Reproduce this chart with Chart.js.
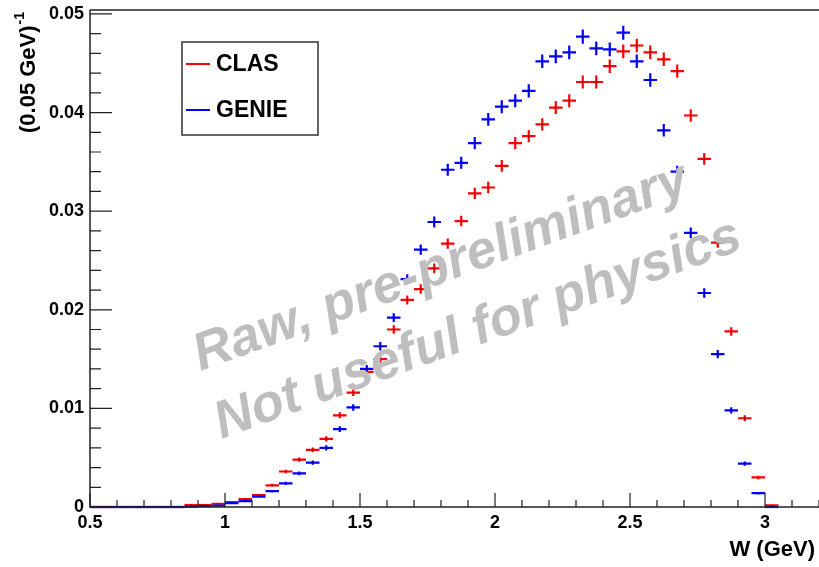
<!DOCTYPE html>
<html>
<head>
<meta charset="utf-8">
<script src="https://cdn.jsdelivr.net/npm/chart.js@4.4.0/dist/chart.umd.min.js"></script>
<style>
  html, body { margin: 0; padding: 0; background: #fff; }
  canvas { display: block; }
</style>
</head>
<body>
<canvas id="myChart" width="819" height="567"></canvas>
<script>
// W distribution, CLAS data vs GENIE, 0.05 GeV bins
var wCenters = [0.525, 0.575, 0.625, 0.675, 0.725, 0.775, 0.825, 0.875, 0.925, 0.975,
                1.025, 1.075, 1.125, 1.175, 1.225, 1.275, 1.325, 1.375, 1.425, 1.475,
                1.525, 1.575, 1.625, 1.675, 1.725, 1.775, 1.825, 1.875, 1.925, 1.975,
                2.025, 2.075, 2.125, 2.175, 2.225, 2.275, 2.325, 2.375, 2.425, 2.475,
                2.525, 2.575, 2.625, 2.675, 2.725, 2.775, 2.825, 2.875, 2.925, 2.975,
                3.025];
var binHalfWidth = 0.025;

var clasValues = [0, 0, 0, 0, 0, 0, 0, 0.0002, 0.0002, 0.00033,
                  0.0005, 0.0008, 0.0012, 0.0022, 0.0036, 0.0048, 0.0058, 0.0069, 0.0093, 0.0116,
                  0.0137, 0.0150, 0.0180, 0.0210, 0.0221, 0.0242, 0.0267, 0.0290, 0.0318, 0.0324,
                  0.0346, 0.0369, 0.0376, 0.0388, 0.0405, 0.0412, 0.0431, 0.0431, 0.0447, 0.0462,
                  0.0468, 0.0461, 0.0454, 0.0442, 0.0397, 0.0353, 0.0268, 0.0178, 0.0090, 0.0030,
                  0.00017];
var clasErrors = [0, 0, 0, 0, 0, 0, 0, 0.00005, 0.00005, 0.00006,
                  0.00007, 0.00009, 0.00011, 0.00015, 0.00019, 0.00022, 0.00024, 0.00027, 0.00031, 0.00034,
                  0.00037, 0.00039, 0.00043, 0.00046, 0.00048, 0.0005, 0.00052, 0.00054, 0.00057, 0.00058,
                  0.0006, 0.00061, 0.00062, 0.00063, 0.00064, 0.00065, 0.00066, 0.00066, 0.00068, 0.00069,
                  0.00069, 0.00069, 0.00068, 0.00067, 0.00064, 0.0006, 0.00052, 0.00043, 0.0003, 0.00018,
                  0.00004];

var genieValues = [0, 0, 0, 0, 0, 0, 0, 0.00003, 0.0001, 0.00015,
                   0.0004, 0.0006, 0.00105, 0.0016, 0.0024, 0.0034, 0.0045, 0.0060, 0.0079, 0.0101,
                   0.0140, 0.0163, 0.0192, 0.0231, 0.0261, 0.0289, 0.0342, 0.0349, 0.0369, 0.0393,
                   0.0406, 0.0412, 0.0422, 0.0452, 0.0457, 0.0461, 0.0477, 0.0465, 0.0464, 0.0481,
                   0.0452, 0.0433, 0.0382, 0.0340, 0.0278, 0.0217, 0.0155, 0.0098, 0.0044, 0.0014,
                   0];
var genieErrors = [0, 0, 0, 0, 0, 0, 0, 0.00002, 0.00003, 0.00004,
                   0.00007, 0.00008, 0.00011, 0.00013, 0.00016, 0.00019, 0.00022, 0.00026, 0.00029, 0.00033,
                   0.00039, 0.00042, 0.00045, 0.0005, 0.00053, 0.00055, 0.00061, 0.00061, 0.00063, 0.00065,
                   0.00066, 0.00066, 0.00067, 0.00069, 0.0007, 0.0007, 0.00071, 0.0007, 0.0007, 0.00071,
                   0.00069, 0.00068, 0.00064, 0.0006, 0.00054, 0.00048, 0.00041, 0.00032, 0.00022, 0.00012,
                   0];

var FONT = '"Liberation Sans", Arial, Helvetica, sans-serif';

function toPoints(values) {
    return wCenters.map(function (w, i) { return { x: w, y: values[i] }; });
}

function isMultiple(v, step) {
    var r = v / step;
    return Math.abs(r - Math.round(r)) < 1e-6;
}

// draws ROOT-style error crosses: full bin width horizontally, +/- error vertically
var errorCrosses = {
    id: 'errorCrosses',
    afterDatasetsDraw: function (chart) {
        var ctx = chart.ctx;
        var xs = chart.scales.x, ys = chart.scales.y;
        ctx.save();
        chart.data.datasets.forEach(function (ds) {
            ctx.strokeStyle = ds.borderColor;
            ctx.lineWidth = 2.2;
            ds.data.forEach(function (p, i) {
                var xl = xs.getPixelForValue(p.x - binHalfWidth);
                var xr = xs.getPixelForValue(p.x + binHalfWidth);
                var xc = xs.getPixelForValue(p.x);
                var yc = ys.getPixelForValue(p.y);
                var yt = ys.getPixelForValue(p.y + ds.errors[i]);
                var yb = ys.getPixelForValue(Math.max(0, p.y - ds.errors[i]));
                ctx.beginPath();
                ctx.moveTo(xl, yc);
                ctx.lineTo(xr, yc);
                if (yb - yt > 1) {
                    ctx.moveTo(xc, yt);
                    ctx.lineTo(xc, yb);
                }
                ctx.stroke();
            });
            ctx.fillStyle = '#000';
            ds.data.forEach(function (p) {
                var xc = xs.getPixelForValue(p.x);
                var yc = ys.getPixelForValue(p.y);
                ctx.fillRect(xc - 0.5, yc - 0.5, 1, 1);
            });
        });
        ctx.restore();
    }
};

// frame, inward ticks, axis titles, legend box and watermark
var rootStyle = {
    id: 'rootStyle',
    afterDraw: function (chart) {
        var ctx = chart.ctx;
        var a = chart.chartArea;
        var xs = chart.scales.x, ys = chart.scales.y;
        ctx.save();

        // frame
        ctx.strokeStyle = '#222';
        ctx.lineWidth = 1.5;
        ctx.beginPath();
        ctx.moveTo(a.left, a.top);
        ctx.lineTo(a.right, a.top);
        ctx.moveTo(a.left, a.top);
        ctx.lineTo(a.left, a.bottom);
        ctx.lineTo(a.right, a.bottom);
        ctx.stroke();

        // ticks pointing into the plot
        ctx.lineWidth = 1.2;
        ctx.beginPath();
        xs.ticks.forEach(function (t) {
            if (!isMultiple(t.value, 0.1)) return;
            var px = xs.getPixelForValue(t.value);
            var len = isMultiple(t.value, 0.5) ? 14 : 7;
            ctx.moveTo(px, a.bottom);
            ctx.lineTo(px, a.bottom - len);
        });
        ys.ticks.forEach(function (t) {
            if (!isMultiple(t.value, 0.002)) return;
            var py = ys.getPixelForValue(t.value);
            var len = isMultiple(t.value, 0.01) ? 22 : 11;
            ctx.moveTo(a.left, py);
            ctx.lineTo(a.left + len, py);
        });
        ctx.stroke();

        // axis titles
        ctx.fillStyle = '#000';
        ctx.font = 'bold 22px ' + FONT;
        ctx.textAlign = 'right';
        ctx.textBaseline = 'middle';
        ctx.fillText('W (GeV)', 815, 550);

        ctx.save();
        ctx.translate(29, 133);
        ctx.rotate(-Math.PI / 2);
        ctx.textAlign = 'left';
        ctx.font = 'bold 22px ' + FONT;
        ctx.fillText('(0.05 GeV)', 0, 0);
        var w = ctx.measureText('(0.05 GeV)').width;
        ctx.font = 'bold 14px ' + FONT;
        ctx.fillText('-1', w + 1, -9);
        ctx.restore();

        // legend
        ctx.strokeStyle = '#333';
        ctx.lineWidth = 1.5;
        ctx.strokeRect(182, 42, 136, 93);
        ctx.font = 'bold 23px ' + FONT;
        ctx.textAlign = 'left';
        chart.data.datasets.forEach(function (ds, i) {
            var ly = i === 0 ? 64 : 110;
            ctx.strokeStyle = ds.borderColor;
            ctx.lineWidth = 2;
            ctx.beginPath();
            ctx.moveTo(186, ly);
            ctx.lineTo(210, ly);
            ctx.stroke();
            ctx.fillStyle = '#000';
            ctx.fillText(ds.label, 216, ly + 1);
        });

        // watermark
        ctx.fillStyle = '#bebebe';
        ctx.font = 'italic bold 53px ' + FONT;
        ctx.textAlign = 'center';
        ctx.textBaseline = 'middle';
        ctx.save();
        ctx.translate(441, 268);
        ctx.rotate(-20 * Math.PI / 180);
        ctx.fillText('Raw, pre-preliminary', 0, 0);
        ctx.restore();
        ctx.save();
        ctx.translate(478, 330);
        ctx.rotate(-20 * Math.PI / 180);
        ctx.fillText('Not useful for physics', 0, 0);
        ctx.restore();

        ctx.restore();
    }
};

var ctx = document.getElementById('myChart').getContext('2d');
var myChart = new Chart(ctx, {
    type: 'scatter',
    data: {
        datasets: [{
            label: 'CLAS',
            data: toPoints(clasValues),
            errors: clasErrors,
            borderColor: 'rgb(255, 0, 0)',
            backgroundColor: 'rgb(255, 0, 0)',
            pointRadius: 0,
            pointHoverRadius: 0
        }, {
            label: 'GENIE',
            data: toPoints(genieValues),
            errors: genieErrors,
            borderColor: 'rgb(0, 0, 255)',
            backgroundColor: 'rgb(0, 0, 255)',
            pointRadius: 0,
            pointHoverRadius: 0
        }]
    },
    options: {
        responsive: false,
        animation: false,
        devicePixelRatio: 1,
        layout: { padding: { top: 10, right: 0, left: 0, bottom: 0 } },
        plugins: {
            legend: { display: false },
            tooltip: { enabled: false }
        },
        scales: {
            x: {
                type: 'linear',
                min: 0.5,
                max: 3.2,
                grid: { display: false, drawTicks: false },
                border: { display: false },
                afterFit: function (scale) {
                    scale.height = 60;
                    scale.paddingLeft = 0;
                    scale.paddingRight = 0;
                },
                ticks: {
                    stepSize: 0.1,
                    autoSkip: false,
                    maxRotation: 0,
                    padding: 5,
                    color: '#000',
                    font: { family: FONT, size: 18, weight: 'bold' },
                    callback: function (v) {
                        return isMultiple(v, 0.5) ? String(Math.round(v * 10) / 10) : '';
                    }
                }
            },
            y: {
                type: 'linear',
                min: 0,
                max: 0.0504,
                grid: { display: false, drawTicks: false },
                border: { display: false },
                afterFit: function (scale) {
                    scale.width = 90;
                    scale.paddingTop = 0;
                    scale.paddingBottom = 0;
                },
                ticks: {
                    stepSize: 0.002,
                    autoSkip: false,
                    includeBounds: false,
                    padding: 6,
                    color: '#000',
                    font: { family: FONT, size: 18, weight: 'bold' },
                    callback: function (v) {
                        return isMultiple(v, 0.01) ? String(Math.round(v * 100) / 100) : '';
                    }
                }
            }
        }
    },
    plugins: [errorCrosses, rootStyle]
});
</script>
</body>
</html>
